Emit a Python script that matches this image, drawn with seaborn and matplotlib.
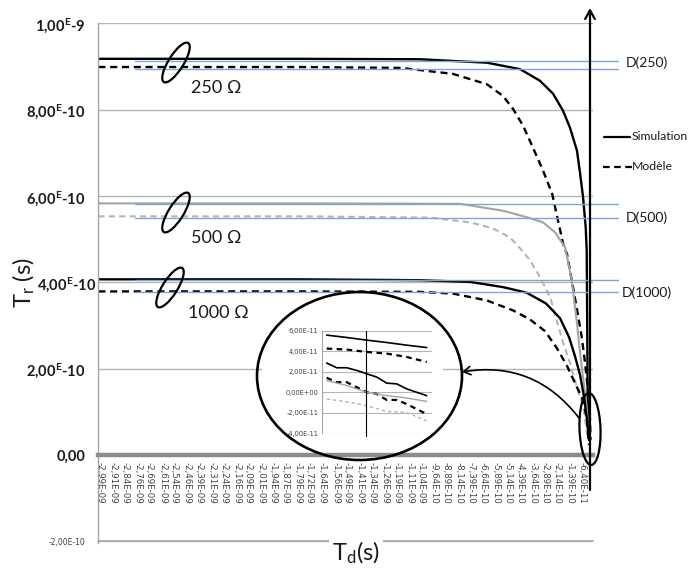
import matplotlib
matplotlib.use("Agg")
import matplotlib.pyplot as plt
import matplotlib.transforms as mtransforms
from matplotlib.patches import Ellipse, Rectangle, FancyArrowPatch
from matplotlib.lines import Line2D
import seaborn as sns

# ------------------------------------------------------------------ data
# Main chart: Td and Tr in units of 1e-10 s
td_tick_labels = [
    "-2,99E-09", "-2,91E-09", "-2,84E-09", "-2,76E-09", "-2,69E-09", "-2,61E-09",
    "-2,54E-09", "-2,46E-09", "-2,39E-09", "-2,31E-09", "-2,24E-09", "-2,16E-09",
    "-2,09E-09", "-2,01E-09", "-1,94E-09", "-1,87E-09", "-1,79E-09", "-1,72E-09",
    "-1,64E-09", "-1,56E-09", "-1,49E-09", "-1,41E-09", "-1,34E-09", "-1,26E-09",
    "-1,19E-09", "-1,11E-09", "-1,04E-09", "-9,64E-10", "-8,89E-10", "-8,14E-10",
    "-7,39E-10", "-6,64E-10", "-5,89E-10", "-5,14E-10", "-4,39E-10", "-3,64E-10",
    "-2,89E-10", "-2,14E-10", "-1,39E-10", "-6,40E-11",
]
y_ticks = [-2, 0, 2, 4, 6, 8, 10]
y_tick_labels = ["-2,00E-10", "0,00", r"2,00$^{\mathbf{E}}$-10", r"4,00$^{\mathbf{E}}$-10",
                 r"6,00$^{\mathbf{E}}$-10", r"8,00$^{\mathbf{E}}$-10", r"1,00$^{\mathbf{E}}$-9"]

sim250_td = [-30.0, -17.8, -10.5, -6.42, -4.41, -3.20, -2.41, -1.81, -1.38, -0.96,
             -0.77, -0.59, -0.43, -0.37, -0.34, -0.31, -0.26]
sim250_tr = [9.18, 9.18, 9.17, 9.09, 8.94, 8.67, 8.37, 7.98, 7.58, 7.05,
             6.52, 5.97, 5.27, 4.74, 3.12, 1.27, 0.46]

model250_td = [-30.0, -17.8, -11.7, -10.5, -8.48, -6.42, -5.45, -4.84, -4.23, -3.63,
               -3.02, -2.47, -2.11, -1.74, -1.57, -1.28, -0.98, -0.67, -0.47, -0.27,
               -0.17, -0.14]
model250_tr = [8.99, 8.99, 8.97, 8.92, 8.83, 8.59, 8.32, 8.02, 7.63, 7.12,
               6.59, 6.06, 5.43, 4.79, 4.67, 4.05, 3.42, 2.73, 2.13, 1.43,
               0.81, 0.35]

sim500_td = [-30.0, -17.8, -8.06, -5.45, -4.01, -3.02, -2.29, -1.68, -1.28, -0.98,
             -0.77, -0.57, -0.37, -0.23]
sim500_tr = [5.83, 5.83, 5.82, 5.66, 5.51, 5.39, 5.16, 4.81, 4.05, 3.12,
             2.36, 1.73, 1.11, 0.35]

model500_td = [-30.0, -17.8, -9.88, -7.45, -6.05, -5.02, -4.29, -3.81, -3.20, -2.59,
               -2.19, -1.79, -1.38, -0.98, -0.57, -0.35]
model500_tr = [5.53, 5.53, 5.50, 5.39, 5.25, 5.04, 4.74, 4.51, 4.12, 3.66,
               3.12, 2.59, 2.13, 1.58, 1.12, 0.46]

sim1000_td = [-30.0, -17.8, -10.5, -7.45, -5.45, -4.01, -2.84, -1.99, -1.44, -1.08,
              -0.77, -0.53, -0.35, -0.23]
sim1000_tr = [4.07, 4.07, 4.05, 4.01, 3.89, 3.76, 3.51, 3.17, 2.73, 2.29,
              1.85, 1.34, 0.81, 0.35]

model1000_td = [-30.0, -17.8, -10.5, -8.48, -6.42, -4.84, -3.81, -2.90, -2.17, -1.56,
                -1.02, -0.59, -0.35, -0.23]
model1000_tr = [3.79, 3.79, 3.78, 3.74, 3.58, 3.35, 3.14, 2.87, 2.47, 2.06,
                1.62, 1.27, 0.81, 0.23]

# asymptote (blue) levels, pairs per resistance
d_levels = [9.14, 8.95, 5.81, 5.49, 4.06, 3.78]
d_names = ["D(250)", "D(500)", "D(1000)"]
r_names = ["250 Ω", "500 Ω", "1000 Ω"]
legend_names = ["Simulation", "Modèle"]

# Inset (zoom on the last points): Tr in units of 1e-11 s
inset_y_ticks = [-4, -2, 0, 2, 4, 6]
inset_y_labels = ["-4,00E-11", "-2,00E-11", "0,00E+00", "2,00E-11", "4,00E-11", "6,00E-11"]
inset_x6 = [0, 2, 4, 6, 8, 10]
inset_x11 = [0, 1, 2, 3, 4, 5, 6, 7, 8, 9, 10]
inset_sim_top = [5.57, 5.34, 5.08, 4.85, 4.59, 4.36]
inset_mod_top = [4.26, 4.16, 3.93, 3.77, 3.44, 2.95]
inset_sim_low = [2.85, 2.39, 2.39, 2.13, 1.80, 1.48, 0.89, 0.82, 0.33, 0.0, -0.33]
inset_mod_low = [1.41, 0.98, 0.98, 0.49, 0.0, -0.16, -0.75, -0.75, -1.15, -1.64, -2.13]
inset_sim_gray = [1.15, 0.66, 0.0, -0.33, -0.56, -0.89]
inset_mod_gray = [-0.66, -0.92, -1.31, -1.87, -1.97, -2.79]
inset_vline = 3.9

# ------------------------------------------------------------------ style
sns.set_theme(style="white")
plt.rcParams["font.family"] = ["Lato", "DejaVu Sans"]
plt.rcParams["mathtext.fontset"] = "custom"
plt.rcParams["mathtext.rm"] = "Lato"
plt.rcParams["mathtext.bf"] = "Lato:bold"
plt.rcParams["mathtext.it"] = "Lato:italic"

BLACK = "#000000"
GRAY_S = "#a3a3a3"
GRAY_D = "#b5b5b5"
BLUE = "#7fa7d6"
GRID = "#b4b4b4"
DASH = (0, (3, 2))

W, H = 694, 572
fig = plt.figure(figsize=(W / 100, H / 100), dpi=100)
fig.patch.set_facecolor("white")
pix = mtransforms.Affine2D().scale(1 / W, 1 / H) + fig.transFigure


def P(x, y):
    return (x, H - y)


ax = fig.add_axes([98 / W, 1 - 543 / H, (592.8 - 98) / W, (543 - 23) / H])
ax.spines["bottom"].set_position(("data", 0))

series = [
    (sim250_td, sim250_tr, BLACK, "-", 1.7),
    (model250_td, model250_tr, BLACK, DASH, 1.7),
    (sim500_td, sim500_tr, GRAY_S, "-", 1.5),
    (model500_td, model500_tr, GRAY_D, DASH, 1.5),
    (sim1000_td, sim1000_tr, BLACK, "-", 1.7),
    (model1000_td, model1000_tr, BLACK, DASH, 1.7),
]
for td, tr, col, ls, lw in series:
    sns.lineplot(x=td, y=tr, color=col, linestyle=ls, linewidth=lw, ax=ax,
                 sort=False, estimator=None, zorder=2)

blue_x = (-27.8, 1.55)
for lvl in d_levels:
    ax.plot(blue_x, [lvl, lvl], color=BLUE, lw=1.0, clip_on=False, zorder=3)

ax.set_xlim(-30.02, 0.0)
ax.set_ylim(-2.04, 10.01)
ax.set_xlabel("")
ax.set_ylabel("")

td_tick_pos = [float(s.replace(",", ".")) * 1e10 for s in td_tick_labels]
ax.set_xticks(td_tick_pos)
ax.set_xticklabels(td_tick_labels, rotation=270, fontsize=6.2,
                   family="DejaVu Sans", color="#404040")
ax.set_yticks(y_ticks)
ax.set_yticklabels(y_tick_labels)
ylabs = ax.get_yticklabels()
for lab in ylabs:
    lab.set_fontweight("bold")
    lab.set_fontsize(10.5)
    lab.set_color("#1a1a1a")
ylabs[0].set_fontweight("normal")
ylabs[0].set_fontsize(5.5)
ylabs[0].set_family("DejaVu Sans")
ylabs[0].set_color("#404040")

ax.tick_params(axis="x", length=0, pad=5)
ax.tick_params(axis="y", length=0, pad=9)
# the 4,00E-10 label sits right against the axis in the original (next to the title)
ax.yaxis.get_major_ticks()[3].set_pad(1.5)
ax.grid(axis="y", color=GRID, lw=1)
ax.grid(axis="x", visible=False)
ax.set_axisbelow(True)
ax.axhline(y_ticks[0], color="#a8a8a8", lw=1.2, zorder=1.5, clip_on=False)
ax.spines["bottom"].set_color("#8c8c8c")
ax.spines["bottom"].set_linewidth(3.2)
ax.spines["left"].set_color("#a6a6a6")
ax.spines["left"].set_linewidth(1)
ax.spines["top"].set_visible(False)
ax.spines["right"].set_visible(False)

# ------------------------------------------------------------------ inset
fig.add_artist(Rectangle(P(262, 448), 181, 130, transform=pix,
                         facecolor="white", edgecolor="none", zorder=4))
iax = fig.add_axes([321.7 / W, 1 - 433.3 / H, 110 / W, (433.3 - 330.7) / H], zorder=5)
iax.set_facecolor("none")
inset_series = [
    (inset_x6, inset_sim_top, BLACK, "-", 1.2),
    (inset_x6, inset_mod_top, BLACK, (0, (2.5, 2)), 1.6),
    (inset_x11, inset_sim_low, BLACK, "-", 1.2),
    (inset_x11, inset_mod_low, BLACK, (0, (2.5, 2)), 1.6),
    (inset_x6, inset_sim_gray, GRAY_S, "-", 1.0),
    (inset_x6, inset_mod_gray, GRAY_D, (0, (2.5, 2)), 1.0),
]
for xs, ys, col, ls, lw in inset_series:
    sns.lineplot(x=xs, y=ys, color=col, linestyle=ls, linewidth=lw, ax=iax,
                 sort=False, estimator=None)
iax.axvline(inset_vline, color=BLACK, lw=0.8, ymin=-0.03, ymax=1.0, clip_on=False)
iax.set_xlim(-0.5, 10.5)
iax.set_ylim(-4, 6)
iax.set_xticks([])
iax.set_yticks(inset_y_ticks)
iax.set_yticklabels(inset_y_labels, fontsize=4.8, family="DejaVu Sans", color="#404040")
iax.tick_params(axis="y", length=0, pad=2.5)
iax.grid(axis="y", color=GRID, lw=0.8)
iax.set_axisbelow(True)
for s in ["top", "right", "bottom"]:
    iax.spines[s].set_visible(False)
iax.spines["left"].set_color("#a6a6a6")
iax.spines["left"].set_linewidth(0.8)
iax.set_xlabel("")
iax.set_ylabel("")

# ------------------------------------------------------------------ annotations
ell_kw = dict(transform=pix, fill=False, edgecolor=BLACK, lw=1.6, zorder=7)
fig.add_artist(Ellipse(P(176, 62.5), 46, 15, angle=58, **ell_kw))
fig.add_artist(Ellipse(P(176, 212.5), 46, 15, angle=58, **ell_kw))
fig.add_artist(Ellipse(P(170, 287.5), 46, 15, angle=58, **ell_kw))
fig.add_artist(Ellipse(P(359.5, 376), 205, 168, transform=pix, fill=False,
                       edgecolor=BLACK, lw=1.9, zorder=7))
fig.add_artist(Ellipse(P(590, 429), 72, 21, angle=92, **ell_kw))

for (x, y), name in zip([(191, 88), (191, 238), (188, 313)], r_names):
    fig.text(*P(x, y), name, transform=pix, ha="left", va="center",
             fontsize=13, color="#1a1a1a", zorder=8)
for (x, y), name in zip([(626, 62.5), (626, 217.5), (622, 292.5)], d_names):
    fig.text(*P(x, y), name, transform=pix, ha="left", va="center",
             fontsize=10, color="#1a1a1a", zorder=8)

# vertical arrow axis
fig.add_artist(FancyArrowPatch(P(590, 490), P(590, 8), transform=pix,
                               arrowstyle="->,head_length=0.45,head_width=0.25",
                               mutation_scale=14, lw=1.6, color=BLACK,
                               shrinkA=0, shrinkB=0, zorder=7))
# curved pointer to inset
fig.add_artist(FancyArrowPatch(P(579, 418), P(462, 372), transform=pix,
                               connectionstyle="arc3,rad=0.3",
                               arrowstyle="->,head_length=0.5,head_width=0.3",
                               mutation_scale=10, lw=1.2, color=BLACK,
                               shrinkA=0, shrinkB=0, zorder=7))

# legend
fig.add_artist(Line2D([604, 630], [H - 137, H - 137], transform=pix, color=BLACK, lw=1.6))
fig.add_artist(Line2D([603, 632], [H - 167, H - 167], transform=pix, color=BLACK, lw=1.6,
                      linestyle=DASH))
fig.text(*P(632, 137), legend_names[0], transform=pix, ha="left", va="center",
         fontsize=8.8, color="#1a1a1a")
fig.text(*P(632, 167), legend_names[1], transform=pix, ha="left", va="center",
         fontsize=8.8, color="#1a1a1a")

# axis titles
fig.text(*P(24, 283), r"T$_{\mathrm{r}}$ (s)", transform=pix, rotation=90,
         ha="center", va="center", fontsize=17, color="#1a1a1a")
fig.text(*P(356, 553), r"T$_{\mathrm{d}}$(s)", transform=pix, ha="center", va="center",
         fontsize=17, color="#1a1a1a",
         bbox=dict(facecolor="white", edgecolor="none", pad=2), zorder=8)

fig.savefig("out.png", dpi=100, facecolor="white")
